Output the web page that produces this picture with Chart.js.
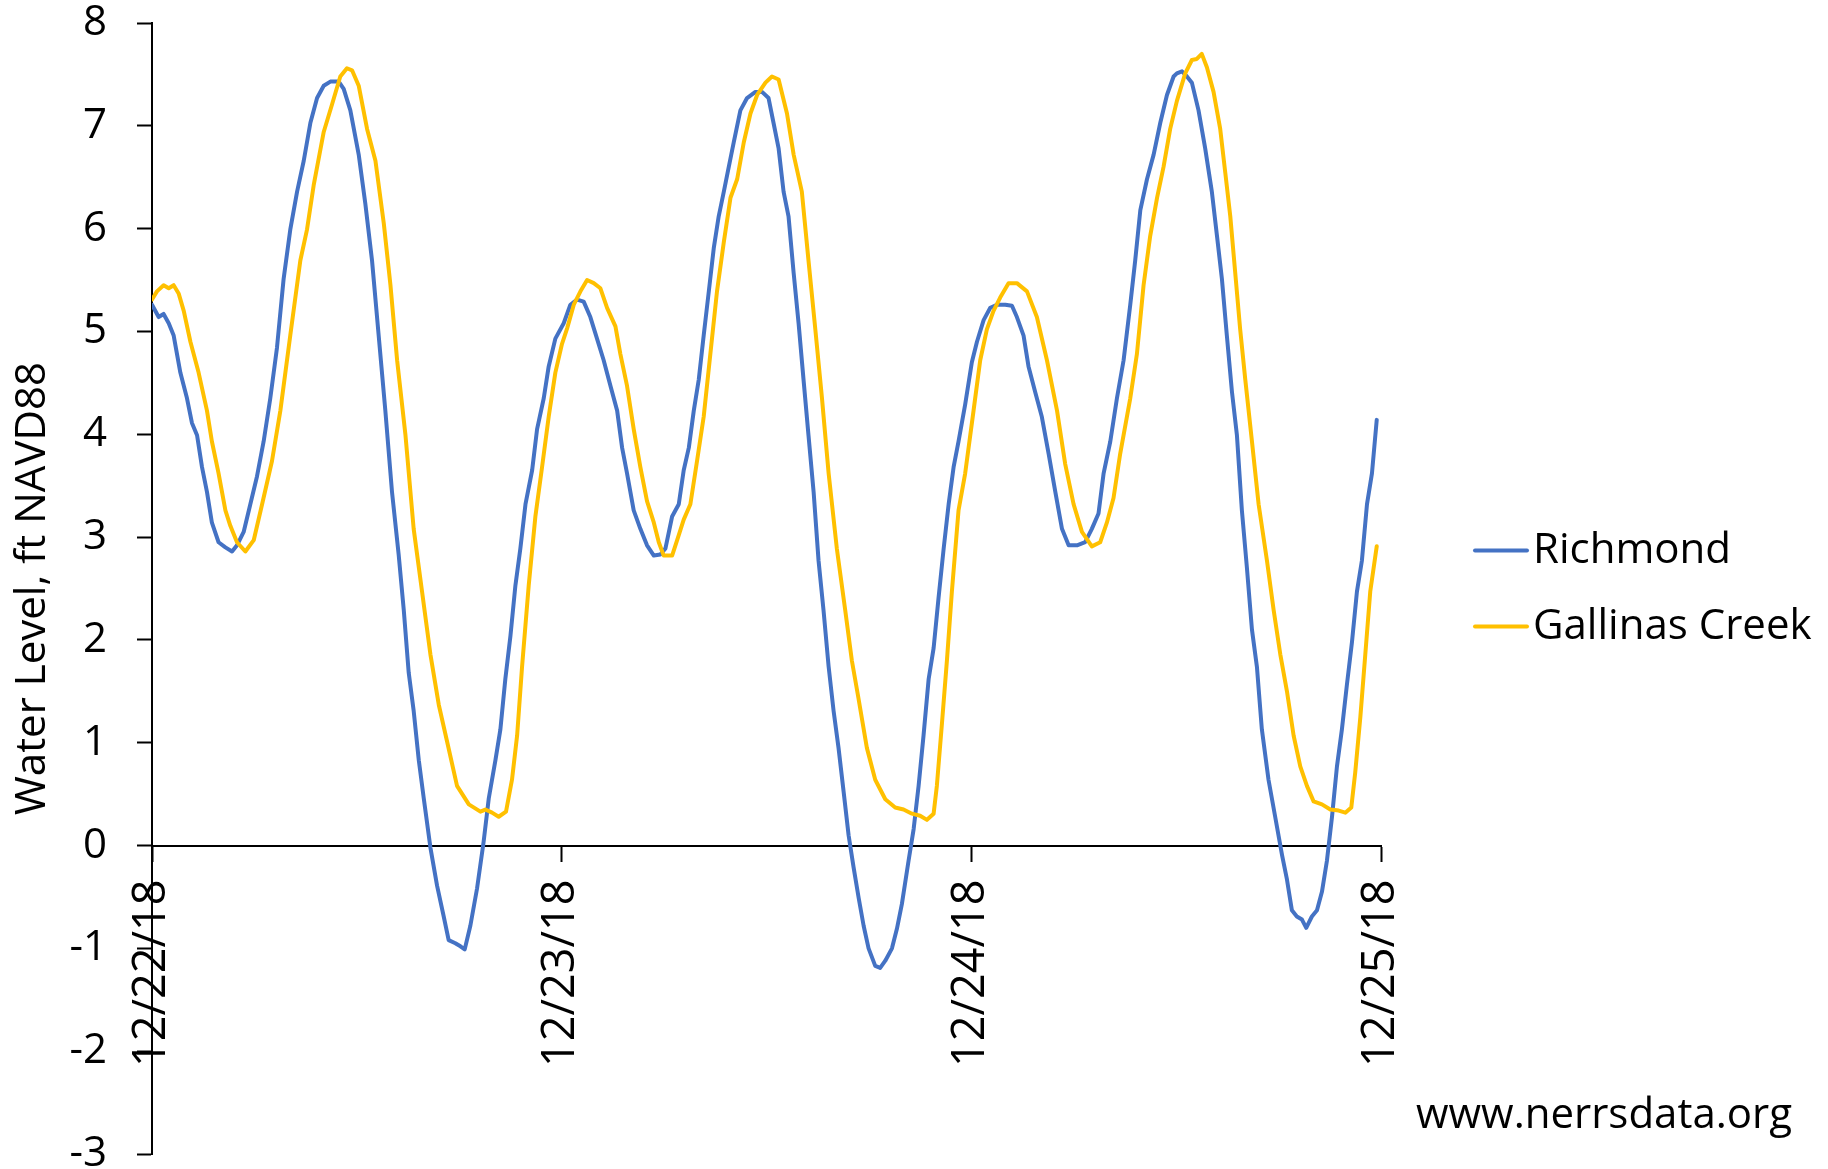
<!DOCTYPE html>
<html>
<head>
<meta charset="utf-8">
<title>Water Level</title>
<script src="https://cdn.jsdelivr.net/npm/chart.js@4.4.1/dist/chart.umd.min.js"></script>
<style>
  html, body { margin: 0; padding: 0; background: #fff; overflow: hidden; }
  canvas { display: block; }
</style>
</head>
<body>
<canvas id="tideChart" width="1828" height="1169"></canvas>
<script>
// x-axis labels, one per day (x values are hours since 12/22/18 00:00)
var dayLabels = ["12/22/18", "12/23/18", "12/24/18", "12/25/18"];

// Richmond
var richmondHours = [0, 0.39, 0.68, 0.98, 1.27, 1.66, 2.05, 2.34, 2.64, 2.93, 3.22, 3.51, 3.9, 4.3, 4.69, 4.98, 5.37, 5.76, 6.15, 6.54, 6.93, 7.32, 7.71, 8.1, 8.5, 8.89, 9.28, 9.67, 10.06, 10.45, 10.94, 11.23, 11.62,
  12.11, 12.5, 12.89, 13.28, 13.67, 14.06, 14.45, 14.75, 15.04, 15.33, 15.63, 15.92, 16.31, 16.7, 17.09, 17.38, 17.77, 18.07, 18.32, 18.65, 19.04, 19.43, 19.73, 20.12, 20.41, 20.7, 21.0, 21.29, 21.58, 21.88, 22.27, 22.56, 22.95, 23.24, 23.63,
  24.12, 24.51, 24.9, 25.29, 25.68, 26.07, 26.46, 26.86, 27.25, 27.54, 27.83, 28.22, 28.61, 29.0, 29.4, 29.78, 30.08, 30.47, 30.86, 31.15, 31.45, 31.74, 32.03, 32.32, 32.62, 32.91, 33.2, 33.5, 33.79, 34.08, 34.47, 34.86, 35.35, 35.74,
  36.12, 36.41, 36.71, 37.0, 37.29, 37.59, 37.88, 38.17, 38.46, 38.76, 39.05, 39.34, 39.64, 39.93, 40.22, 40.52, 40.81, 41.1, 41.4, 41.69, 41.98, 42.37, 42.66, 42.96, 43.35, 43.64, 43.93, 44.32, 44.62, 44.91, 45.2, 45.5, 45.79, 46.08, 46.38, 46.67, 46.96, 47.25, 47.64,
  48.03, 48.33, 48.72, 49.11, 49.5, 49.99, 50.38, 50.67, 51.06, 51.35, 51.74, 52.13, 52.53, 52.92, 53.31, 53.7, 54.19, 54.67, 55.06, 55.45, 55.75, 56.14, 56.53, 56.92, 57.31, 57.6, 57.9, 58.29, 58.68, 59.07, 59.46, 59.85,
  60.04, 60.34, 60.63, 60.92, 61.31, 61.7, 62.09, 62.39, 62.68, 62.97, 63.27, 63.56, 63.85, 64.14, 64.44, 64.73, 65.02, 65.41, 65.8, 66.2, 66.49, 66.78, 67.07, 67.37, 67.62, 67.95, 68.25, 68.54, 68.83, 69.13, 69.42, 69.71, 70.0, 70.3, 70.59, 70.88, 71.18, 71.47, 71.75];
var richmondLevel = [5.26, 5.14, 5.17, 5.08, 4.96, 4.6, 4.35, 4.11, 3.99, 3.68, 3.44, 3.14, 2.95, 2.9, 2.86, 2.92, 3.05, 3.32, 3.59, 3.93, 4.35, 4.84, 5.51, 5.99, 6.36, 6.66, 7.03, 7.27, 7.39, 7.43, 7.43, 7.36, 7.15,
  6.72, 6.24, 5.69, 4.96, 4.23, 3.44, 2.83, 2.29, 1.68, 1.31, 0.83, 0.46, -0.02, -0.39, -0.69, -0.92, -0.95, -0.98, -1.01, -0.78, -0.42, 0.04, 0.46, 0.83, 1.13, 1.62, 2.04, 2.53, 2.89, 3.32, 3.65, 4.05, 4.35, 4.66, 4.93,
  5.08, 5.26, 5.31, 5.29, 5.14, 4.93, 4.72, 4.47, 4.23, 3.87, 3.62, 3.26, 3.08, 2.92, 2.82, 2.83, 2.89, 3.2, 3.32, 3.65, 3.87, 4.23, 4.53, 4.96, 5.39, 5.81, 6.12, 6.36, 6.6, 6.84, 7.15, 7.27, 7.33, 7.33,
  7.27, 7.03, 6.78, 6.36, 6.12, 5.57, 5.08, 4.53, 3.99, 3.44, 2.77, 2.29, 1.74, 1.31, 0.95, 0.52, 0.1, -0.21, -0.51, -0.78, -1.0, -1.17, -1.19, -1.12, -1.0, -0.81, -0.57, -0.15, 0.16, 0.58, 1.07, 1.62, 1.92, 2.41, 2.89, 3.32, 3.68, 3.93, 4.29,
  4.7, 4.9, 5.11, 5.23, 5.26, 5.26, 5.25, 5.14, 4.96, 4.66, 4.41, 4.17, 3.81, 3.44, 3.08, 2.92, 2.92, 2.95, 3.08, 3.23, 3.62, 3.93, 4.35, 4.72, 5.26, 5.69, 6.18, 6.48, 6.72, 7.03, 7.3, 7.48,
  7.51, 7.53, 7.48, 7.42, 7.15, 6.78, 6.36, 5.93, 5.51, 4.96, 4.41, 3.99, 3.26, 2.71, 2.1, 1.74, 1.13, 0.64, 0.28, -0.09, -0.33, -0.63, -0.69, -0.72, -0.8, -0.69, -0.63, -0.45, -0.15, 0.28, 0.77, 1.13, 1.56, 1.98, 2.47, 2.77, 3.32, 3.62, 4.14];

// Gallinas Creek
var gallinasHours = [0, 0.29, 0.68, 0.98, 1.27, 1.56, 1.86, 2.25, 2.73, 3.22, 3.51, 3.9, 4.3, 4.59, 4.98, 5.47, 5.96, 6.45, 7.03, 7.52, 8.1, 8.69, 9.08, 9.47, 10.06, 10.55, 11.03, 11.42, 11.72,
  12.11, 12.6, 13.09, 13.58, 13.97, 14.36, 14.85, 15.33, 15.82, 16.31, 16.8, 17.29, 17.87, 18.56, 19.24, 19.53, 19.92, 20.31, 20.74, 21.09, 21.39, 21.68, 22.07, 22.46, 22.85, 23.24, 23.63, 24.02,
  24.32, 24.71, 25.1, 25.49, 25.88, 26.27, 26.66, 27.15, 27.44, 27.83, 28.22, 28.61, 29.0, 29.4, 29.69, 29.98, 30.47, 30.86, 31.15, 31.54, 31.93, 32.32, 32.71, 33.1, 33.5, 33.89, 34.28, 34.67, 35.06, 35.45, 35.94,
  36.32, 36.71, 37.2, 37.59, 38.07, 38.46, 38.86, 39.25, 39.64, 40.12, 40.61, 41.0, 41.39, 41.88, 42.37, 42.96, 43.54, 44.03, 44.52, 45.0, 45.4, 45.79, 45.98, 46.28, 46.57, 46.86, 47.25, 47.64,
  48.13, 48.52, 48.91, 49.3, 49.69, 50.18, 50.67, 51.26, 51.84, 52.43, 53.02, 53.5, 53.99, 54.48, 55.06, 55.55, 55.94, 56.33, 56.72, 57.31, 57.7, 58.09, 58.48, 58.88, 59.26, 59.65, 60.04,
  60.53, 60.92, 61.21, 61.5, 61.8, 62.19, 62.58, 62.88, 63.17, 63.46, 63.75, 64.05, 64.44, 64.83, 65.32, 65.71, 66.1, 66.49, 66.88, 67.27, 67.66, 68.05, 68.54, 69.03, 69.52, 69.91, 70.26, 70.49, 70.79, 71.08, 71.37, 71.75];
var gallinasLevel = [5.31, 5.39, 5.45, 5.42, 5.45, 5.37, 5.2, 4.9, 4.6, 4.23, 3.93, 3.62, 3.26, 3.11, 2.95, 2.86, 2.97, 3.32, 3.74, 4.23, 4.96, 5.69, 5.99, 6.42, 6.94, 7.21, 7.48, 7.56, 7.54,
  7.39, 6.97, 6.66, 6.05, 5.45, 4.72, 3.99, 3.08, 2.47, 1.86, 1.37, 1.01, 0.58, 0.4, 0.33, 0.35, 0.32, 0.28, 0.33, 0.64, 1.07, 1.74, 2.53, 3.2, 3.68, 4.17, 4.6, 4.88,
  5.03, 5.26, 5.39, 5.5, 5.47, 5.42, 5.23, 5.05, 4.78, 4.47, 4.05, 3.68, 3.35, 3.14, 2.95, 2.82, 2.82, 3.02, 3.17, 3.32, 3.74, 4.17, 4.78, 5.39, 5.87, 6.3, 6.48, 6.84, 7.12, 7.3, 7.42,
  7.48, 7.45, 7.12, 6.72, 6.36, 5.69, 5.02, 4.35, 3.62, 2.89, 2.29, 1.8, 1.43, 0.95, 0.64, 0.45, 0.37, 0.35, 0.31, 0.29, 0.25, 0.31, 0.58, 1.19, 1.8, 2.47, 3.26, 3.62,
  4.23, 4.72, 5.02, 5.2, 5.33, 5.47, 5.47, 5.39, 5.14, 4.72, 4.23, 3.71, 3.32, 3.05, 2.91, 2.95, 3.14, 3.38, 3.81, 4.35, 4.78, 5.45, 5.93, 6.3, 6.6, 6.97, 7.24,
  7.51, 7.64, 7.65, 7.7, 7.57, 7.33, 6.97, 6.54, 6.12, 5.57, 5.02, 4.53, 3.93, 3.32, 2.77, 2.29, 1.86, 1.5, 1.07, 0.77, 0.58, 0.43, 0.4, 0.35, 0.34, 0.32, 0.37, 0.71, 1.25, 1.86, 2.47, 2.91];

var sourceNote = "www.nerrsdata.org";

function toPoints(xs, ys) {
  return xs.map(function (x, i) { return { x: x, y: ys[i] }; });
}

var FONT = { family: '"Open Sans", sans-serif', size: 42 };
var DATE_FONT = { family: '"Open Sans", sans-serif', size: 45 };
Chart.defaults.font.family = FONT.family;
Chart.defaults.color = "#000";

// legend at the right + source note, drawn on the canvas
var sideText = {
  id: "sideText",
  afterDraw: function (chart) {
    var ctx = chart.ctx;
    var area = chart.chartArea;
    var mid = (area.top + area.bottom) / 2;
    var x0 = area.right + 94;
    ctx.save();
    ctx.font = FONT.size + "px " + FONT.family;
    ctx.textBaseline = "middle";
    ctx.fillStyle = "#000";
    chart.data.datasets.forEach(function (ds, i) {
      var y = mid - 38 + i * 76;
      ctx.strokeStyle = ds.borderColor;
      ctx.lineWidth = 4;
      ctx.lineCap = "round";
      ctx.beginPath();
      ctx.moveTo(x0, y);
      ctx.lineTo(x0 + 52, y);
      ctx.stroke();
      ctx.fillText(ds.label, x0 + 58, y + 1);
    });
    ctx.textAlign = "right";
    ctx.fillText(sourceNote, chart.width - 36, area.bottom - 38);
    ctx.restore();
  }
};

var ctx = document.getElementById("tideChart");
var tideChart = new Chart(ctx, {
  type: "line",
  data: {
    datasets: [
      {
        label: "Richmond",
        data: toPoints(richmondHours, richmondLevel),
        borderColor: "#4472C4",
        borderWidth: 4,
        pointRadius: 0,
        tension: 0,
        fill: false,
        order: 2
      },
      {
        label: "Gallinas Creek",
        data: toPoints(gallinasHours, gallinasLevel),
        borderColor: "#FFC000",
        borderWidth: 4,
        pointRadius: 0,
        tension: 0,
        fill: false,
        order: 1
      }
    ]
  },
  options: {
    responsive: false,
    animation: false,
    devicePixelRatio: 1,
    layout: { padding: { top: 23, bottom: 15, left: 0, right: 447 } },
    plugins: {
      legend: { display: false },
      tooltip: { enabled: false }
    },
    elements: { line: { borderJoinStyle: "round", borderCapStyle: "round" } },
    scales: {
      x: {
        type: "linear",
        min: 0,
        max: 72,
        position: { y: 0 },
        grid: { drawOnChartArea: false, drawTicks: true, tickLength: 15, tickColor: "#000", tickWidth: 2 },
        border: { display: true, color: "#000", width: 2 },
        ticks: {
          stepSize: 24,
          autoSkip: false,
          minRotation: 90,
          maxRotation: 90,
          padding: 19,
          color: "#000",
          font: DATE_FONT,
          callback: function (v) { return dayLabels[v / 24]; }
        }
      },
      y: {
        min: -3,
        max: 8,
        grid: { drawOnChartArea: false, drawTicks: true, tickLength: 15, tickColor: "#000", tickWidth: 2 },
        border: { display: true, color: "#000", width: 2 },
        ticks: { stepSize: 1, padding: 30, color: "#000", font: FONT },
        title: {
          display: true,
          text: "Water Level, ft NAVD88",
          color: "#000",
          font: FONT,
          padding: { top: 8, bottom: 0 }
        },
        afterFit: function (scale) {
          scale.width = 152;
          scale.paddingTop = 0;
          scale.paddingBottom = 0;
        }
      }
    }
  },
  plugins: [sideText]
});
</script>
</body>
</html>
